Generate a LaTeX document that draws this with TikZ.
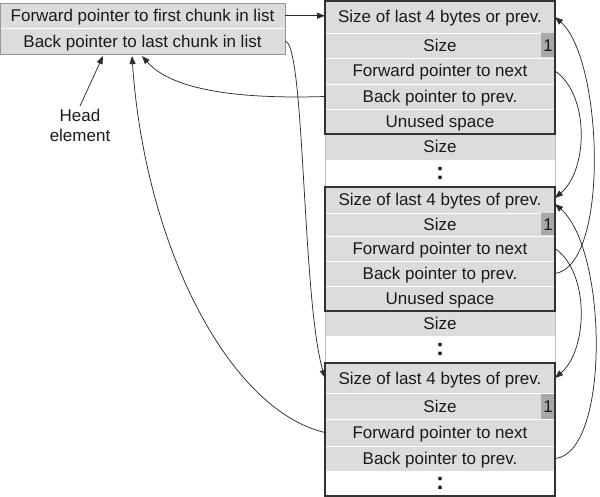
\documentclass[tikz,border=0pt]{standalone}
\usepackage{fontspec}
\setmainfont{Liberation Sans}
\usetikzlibrary{arrows.meta}
\definecolor{boxgray}{RGB}{220,220,220}
\definecolor{onegray}{RGB}{168,168,168}
\definecolor{textdark}{RGB}{26,26,26}
\definecolor{conncol}{RGB}{45,45,45}
\definecolor{chunkcol}{RGB}{50,50,50}
\definecolor{colcol}{RGB}{190,190,190}
\definecolor{headcol}{RGB}{150,150,150}
\begin{document}
\begin{tikzpicture}[x=1pt,y=-1pt,
  cell/.style={draw=white, line width=0.9pt, fill=boxgray, anchor=north west,
    minimum width=230pt, inner sep=0pt, outer sep=0pt,
    font=\fontsize{17}{20}\selectfont, text height=12pt, text depth=0pt, text=textdark},
  hcell/.style={cell, minimum width=285pt},
  blank/.style={cell, fill=white, draw=none, font=\fontsize{24}{26}\selectfont\bfseries, text height=12.5pt},
  onecell/.style={fill=onegray, draw=none, anchor=east, minimum width=14pt,
    inner sep=0pt, outer sep=0pt, font=\fontsize{17}{20}\selectfont,
    text height=12pt, text depth=0pt, text=textdark},
  chunkline/.style={draw=chunkcol, line width=1.1pt},
  colline/.style={draw=colcol, line width=0.6pt},
  headline/.style={draw=headcol, line width=0.6pt},
  conn/.style={draw=conncol, line width=0.75pt},
  arr/.style={conn, -{Triangle[length=8pt,width=6pt]}},
  lbl/.style={font=\fontsize{17}{20}\selectfont, text=textdark, align=center, inner sep=3pt}
]
\useasboundingbox (0,0) rectangle (600,497);

% head element
\node[hcell, minimum height=25.5pt] (h1) at (0,3) {Forward pointer to first chunk in list};
\node[hcell, minimum height=25.5pt] (h2) at (0,28.5) {Back pointer to last chunk in list};
\draw[headline] (h1.north west) rectangle (h2.south east);
\node[lbl, anchor=north] (helabel) at (80,106) {Head\\element};

% chunk 1
\node[cell, minimum height=32pt] (c1r1) at (325,1) {Size of last 4 bytes or prev.};
\node[cell, minimum height=25pt] (c1r2) at (325,33) {Size};
\node[cell, minimum height=26pt] (c1r3) at (325,58) {Forward pointer to next};
\node[cell, minimum height=25pt] (c1r4) at (325,84) {Back pointer to prev.};
\node[cell, minimum height=25pt] (c1r5) at (325,109) {Unused space};
\node[cell, minimum height=26pt] (c1s) at (325,134) {Size};
\node[blank, minimum height=27pt] (c1d) at (325,160) {:};
\node[onecell, minimum height=24pt] (c1one) at (c1r2.east) {1};

% chunk 2
\node[cell, minimum height=26pt] (c2r1) at (325,187) {Size of last 4 bytes of prev.};
\node[cell, minimum height=23pt] (c2r2) at (325,213) {Size};
\node[cell, minimum height=25pt] (c2r3) at (325,236) {Forward pointer to next};
\node[cell, minimum height=25pt] (c2r4) at (325,261) {Back pointer to prev.};
\node[cell, minimum height=25pt] (c2r5) at (325,286) {Unused space};
\node[cell, minimum height=25pt] (c2s) at (325,311) {Size};
\node[blank, minimum height=27pt] (c2d) at (325,336) {:};
\node[onecell, minimum height=22pt] (c2one) at (c2r2.east) {1};

% chunk 3
\node[cell, minimum height=30pt] (c3r1) at (325,363) {Size of last 4 bytes of prev.};
\node[cell, minimum height=26pt] (c3r2) at (325,393) {Size};
\node[cell, minimum height=27pt] (c3r3) at (325,419) {Forward pointer to next};
\node[cell, minimum height=25pt] (c3r4) at (325,446) {Back pointer to prev.};
\node[blank, minimum height=25pt] (c3d) at (325,471) {:};
\node[onecell, minimum height=25pt] (c3one) at (c3r2.east) {1};

% outlines
\draw[colline] (c1r1.north west) rectangle (c3d.south east);
\draw[chunkline] (c1r1.north west) rectangle (c1r5.south east);
\draw[chunkline] (c2r1.north west) rectangle (c2r5.south east);
\draw[chunkline] (c3r1.north west) rectangle (c3d.south east);

% targets on the head element
\coordinate (hbA) at (103,56);
\coordinate (hbB) at (132,56);
\coordinate (hbC) at (142,56);

% left connectors
\draw[arr] (h1.east) -- (h1.east -| c1r1.west);
\draw[arr] (h2.east) .. controls +(20,0) and +(-23,-78) .. (c3r1.west);
\draw[arr] (c1r4.west) .. controls +(-95,3) and +(28,32) .. (hbC);
\draw[arr] (c3r3.west) .. controls +(-95,-22) and +(13,192) .. (hbB);
\draw[arr] (helabel.north) -- (hbA);

% right connectors
\draw[arr] (c1r3.east) .. controls +(35,24) and +(33,-28) .. ([yshift=2pt]c2r1.east);
\draw[arr] (c2r4.east) .. controls +(55,-8) and +(48,42) .. (c1r1.east);
\draw[arr] (c2r3.east) .. controls +(35,24) and +(33,-28) .. (c3r1.east);
\draw[arr] (c3r4.east) .. controls +(55,-5) and +(53,46) .. ([yshift=-4pt]c2r1.east);
\end{tikzpicture}
\end{document}
